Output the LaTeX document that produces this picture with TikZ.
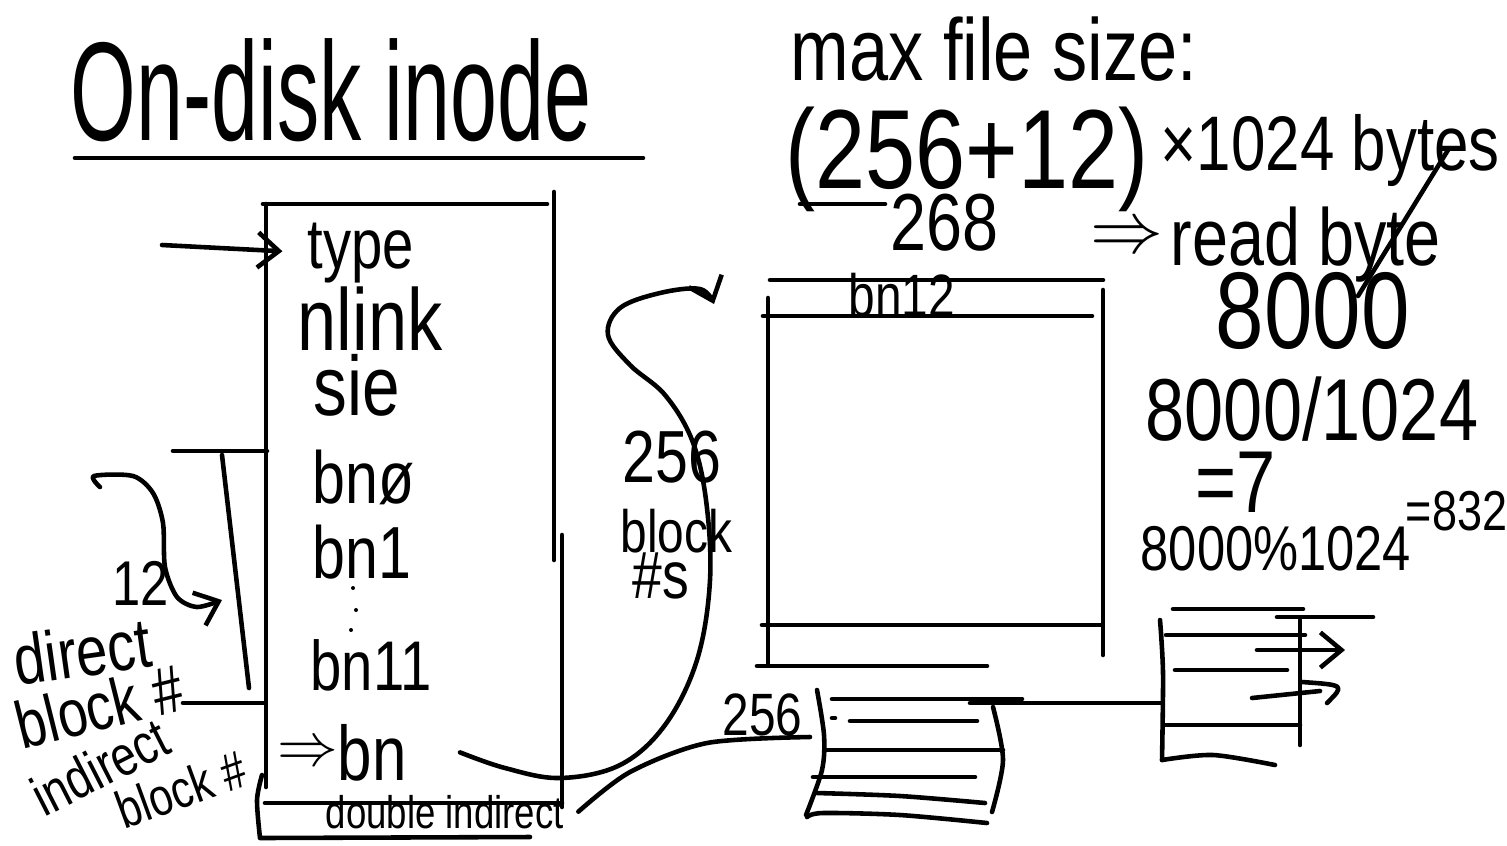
\documentclass[tikz,border=0pt]{standalone}
\usepackage{fontspec}
\newfontfamily\handfont[FakeStretch=0.8]{Liberation Sans}
\newfontfamily\titlefont[FakeStretch=0.6]{Liberation Sans}
\usetikzlibrary{arrows.meta}
\begin{document}
\begin{tikzpicture}[x=0.01cm,y=-0.01cm,
        pen/.style={line width=1.3pt,line cap=round,line join=round},
        arr/.style={pen,-{Straight Barb[length=6pt,width=10pt]}},
        hand/.style={inner sep=0pt,anchor=base west,font=\handfont\fontsize{#1}{#1}\selectfont}]
        \useasboundingbox (0,0) rectangle (1507,845);
        \node[hand=40,font=\titlefont\fontsize{40}{40}\selectfont] (title) at (70,140) {On-disk inode};
        \draw[pen] (75,158) -- (643,158);
        \node[hand=20] (type) at (307,268) {type};
        \node[hand=25] (nlink) at (297,350) {nlink};
        \node[hand=24] (size) at (313,415) {sie};
        \node[hand=21] (bnzero) at (312,503) {bnø};
        \node[hand=21] (bnone) at (312,578) {bn1};
        \node[hand=20] (bneleven) at (310,690) {bn11};
        \node[hand=18] (implind) at (277,765) {$\Rightarrow$};
        \node[hand=22] (bnind) at (337,780) {bn};
        \node[hand=13] (dind) at (325,828) {double indirect};
        \fill (353,588) circle (2);
        \fill (356,610) circle (2);
        \fill (351,630) circle (2);
        \draw[pen] (263,204) -- (547,204);
        \draw[pen] (554,192) -- (554,560);
        \draw[pen] (562,535) -- (562,807);
        \draw[pen] (266,204) -- (266,787);
        \draw[pen] (265,803) -- (562,803);
        \draw[pen] plot[smooth] coordinates {(262,775) (257,800) (260,838)} -- (530,837);
        \coordinate (typein) at (162,245);
        \draw[arr,shorten >=7pt] (typein) -- (type.west);
        \draw[pen] (173,451) -- (267,451);
        \draw[pen] (183,703) -- (265,703);
        \draw[pen] (222,455) -- (249,688);
        \node[hand=18] (twelve) at (112,605) {12};
        \draw[arr] plot[smooth] coordinates {(100,487) (94,476) (133,476) (153,493) (163,523) (165,567) (177,597) (197,607) (222,600)};
        \node[hand=20,rotate=8] (direct) at (17,686) {direct};
        \node[hand=19,rotate=14] (dblock) at (22,750) {block \#};
        \node[hand=16,rotate=27] (indirect) at (44,818) {indirect};
        \node[hand=15,rotate=20] (iblock) at (124,830) {block \#};
        \coordinate (bnout) at ([xshift=15pt]bnind.east);
        \coordinate (blkin) at (714,304);
        \draw[arr] plot[smooth,tension=0.6] coordinates {(bnout) (505,768) (560,778) (620,765) (665,725) (697,660) (710,580) (706,500) (692,440) (665,395) (630,365) (608,335) (620,308) (660,293) (700,289) (blkin)};
        \node[hand=21] (nblk) at (622,482) {256};
        \node[hand=17] (blockw) at (620,552) {block};
        \node[hand=19] (nums) at (632,598) {\#s};
        \draw[pen] (770,280) -- (1103,280);
        \draw[pen] (763,316) -- (1092,316);
        \draw[pen] (768,298) -- (768,665);
        \draw[pen] (1103,290) -- (1103,655);
        \draw[pen] (762,625) -- (1100,625);
        \draw[pen] (757,666) -- (987,666);
        \node[hand=17] (bntwelve) at (848,316) {bn12};
        \node[hand=17] (nddbl) at (722,735) {256};
        \draw[pen] plot[smooth] coordinates {([xshift=4pt]dind.east) (630,772) (707,743) (810,737)};
        \draw[pen] plot[smooth] coordinates {(817,690) (824,735) (822,770) (806,815)};
        \draw[pen] (832,699) -- (1022,699);
        \draw[pen] (832,718) -- (835,718);
        \draw[pen] (850,721) -- (977,721);
        \draw[pen] (825,750) -- (1003,750);
        \draw[pen] (813,777) -- (975,777);
        \draw[pen] plot[smooth] coordinates {(817,793) (900,796) (985,803)};
        \draw[pen] plot[smooth] coordinates {(807,817) (823,813) (900,815) (987,823)};
        \draw[pen] plot[smooth] coordinates {(993,707) (1003,760) (992,812)};
        \draw[pen] (970,703) -- (1162,703);
        \draw[pen] (1173,609) -- (1303,609);
        \draw[pen] (1277,617) -- (1373,617);
        \draw[pen] plot[smooth] coordinates {(1160,620) (1163,673) (1162,760)};
        \draw[pen] (1166,635) -- (1305,635);
        \coordinate (ptrA) at (1257,650);
        \coordinate (ptrAend) at (1345,650);
        \draw[arr] (ptrA) -- (ptrAend);
        \draw[pen] (1175,670) -- (1287,670);
        \draw[pen] (1252,698) -- (1320,691);
        \draw[pen] (1302,682) .. controls (1345,685) .. (1327,703);
        \draw[pen] (1165,725) -- (1300,725);
        \draw[pen] (1300,620) -- (1300,745);
        \draw[pen] plot[smooth] coordinates {(1162,760) (1213,755) (1275,765)};
        \node[hand=25] (maxsize) at (790,80) {max file size:};
        \node[hand=32] (sum) at (785,188) {(256+12)};
        \node[hand=22] (times) at (1160,170) {×1024 bytes};
        \draw[pen] (800,204) -- (885,204);
        \node[hand=23] (total) at (890,250) {268};
        \node[hand=20] (impl) at (1090,252) {$\Rightarrow$};
        \node[hand=23] (readb) at (1170,265) {read byte};
        \draw[pen] (1448,150) -- (1358,296);
        \node[hand=31] (eightk) at (1215,348) {8000};
        \node[hand=25] (divide) at (1145,440) {8000/1024};
        \node[hand=25] (quot) at (1195,512) {=7};
        \node[hand=18] (modulo) at (1140,570) {8000\%1024};
        \node[hand=16] (remain) at (1405,530) {=832};
\end{tikzpicture}
\end{document}
